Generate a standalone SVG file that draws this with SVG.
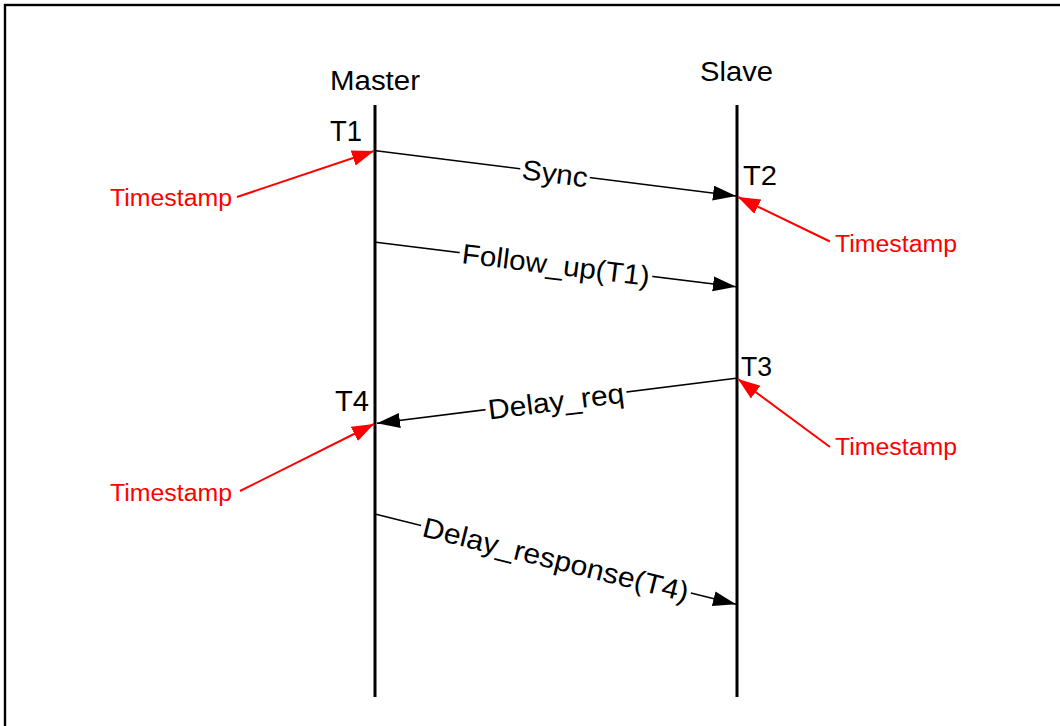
<svg xmlns="http://www.w3.org/2000/svg" width="1060" height="726" viewBox="0 0 1060 726">
<style>
  .life { stroke: #000; stroke-width: 3; fill: none; }
  .msg { stroke: #000; stroke-width: 1.6; fill: none; marker-end: url(#ab); }
  .ts { stroke: #ff0000; stroke-width: 2; fill: none; marker-end: url(#ar); }
  .t { font-family: "Liberation Sans", Arial, sans-serif; fill: #000; }
  .red { font-family: "Liberation Sans", Arial, sans-serif; fill: #ff0000; font-size: 23px; }
  .bg { fill: #fff; }
</style>
<defs>
  <marker id="ab" markerUnits="userSpaceOnUse" markerWidth="24" markerHeight="16" refX="23" refY="7.5" orient="auto">
    <path d="M0,0 L23,7.5 L0,15 z" fill="#000"/>
  </marker>
  <marker id="ar" markerUnits="userSpaceOnUse" markerWidth="24" markerHeight="18" refX="22" refY="8" orient="auto">
    <path d="M0,0 L22,8 L0,16 z" fill="#ff0000"/>
  </marker>
</defs>
<rect x="0" y="0" width="1060" height="726" fill="#fff"/>
<rect id="frame" x="5" y="5" width="1100" height="800" fill="none" stroke="#000" stroke-width="2.4"/>

<g id="master">
  <text class="t" x="330" y="90" font-size="27" textLength="90" lengthAdjust="spacingAndGlyphs">Master</text>
  <line class="life" x1="375" y1="105" x2="375" y2="697"/>
</g>
<g id="slave">
  <text class="t" x="700" y="81" font-size="27" textLength="73" lengthAdjust="spacingAndGlyphs">Slave</text>
  <line class="life" x1="737" y1="105" x2="737" y2="697"/>
</g>

<g id="t-labels">
  <text class="t" x="330" y="141" font-size="29" textLength="32" lengthAdjust="spacingAndGlyphs">T1</text>
  <text class="t" x="743" y="185" font-size="28" textLength="34" lengthAdjust="spacingAndGlyphs">T2</text>
  <text class="t" x="741" y="376" font-size="28" textLength="31" lengthAdjust="spacingAndGlyphs">T3</text>
  <text class="t" x="335" y="411" font-size="29" textLength="34" lengthAdjust="spacingAndGlyphs">T4</text>
</g>

<g id="connectors">
  <line class="msg" x1="376" y1="150.7" x2="736" y2="196"/>
  <line class="msg" x1="376" y1="242.3" x2="736" y2="286.7"/>
  <line class="msg" x1="736" y1="378.3" x2="377" y2="423.3"/>
  <line class="msg" x1="376" y1="514.3" x2="736" y2="604.3"/>
  <line class="ts" x1="237" y1="197" x2="374" y2="151"/>
  <line class="ts" x1="830" y1="241.5" x2="738" y2="197"/>
  <line class="ts" x1="830" y1="447" x2="738" y2="379"/>
  <line class="ts" x1="240" y1="491" x2="374" y2="424"/>
</g>

<g id="label-sync" transform="translate(555,173.1) rotate(7.16)">
  <rect class="bg" x="-35" y="-9" width="70" height="18"/>
  <text class="t" x="0" y="0" dy="0.36em" font-size="28" text-anchor="middle" textLength="66" lengthAdjust="spacingAndGlyphs">Sync</text>
</g>
<g id="label-follow" transform="translate(556,264.4) rotate(7.01)">
  <rect class="bg" x="-97" y="-9" width="194" height="18"/>
  <text class="t" x="0" y="0" dy="0.36em" font-size="28" text-anchor="middle" textLength="189" lengthAdjust="spacingAndGlyphs">Follow_up(T1)</text>
</g>
<g id="label-delayreq" transform="translate(556,400.9) rotate(-7.1)">
  <rect class="bg" x="-71" y="-9" width="142" height="18"/>
  <text class="t" x="0" y="0" dy="0.36em" font-size="28" text-anchor="middle" textLength="137" lengthAdjust="spacingAndGlyphs">Delay_req</text>
</g>
<g id="label-delayresp" transform="translate(556,559.2) rotate(14)">
  <rect class="bg" x="-139" y="-9" width="278" height="18"/>
  <text class="t" x="0" y="0" dy="0.36em" font-size="28" text-anchor="middle" textLength="273" lengthAdjust="spacingAndGlyphs">Delay_response(T4)</text>
</g>

<g id="timestamps">
  <text class="red" x="110" y="206" textLength="122" lengthAdjust="spacingAndGlyphs">Timestamp</text>
  <text class="red" x="835" y="252" textLength="122" lengthAdjust="spacingAndGlyphs">Timestamp</text>
  <text class="red" x="835" y="455" textLength="122" lengthAdjust="spacingAndGlyphs">Timestamp</text>
  <text class="red" x="110" y="501" textLength="122" lengthAdjust="spacingAndGlyphs">Timestamp</text>
</g>
</svg>
